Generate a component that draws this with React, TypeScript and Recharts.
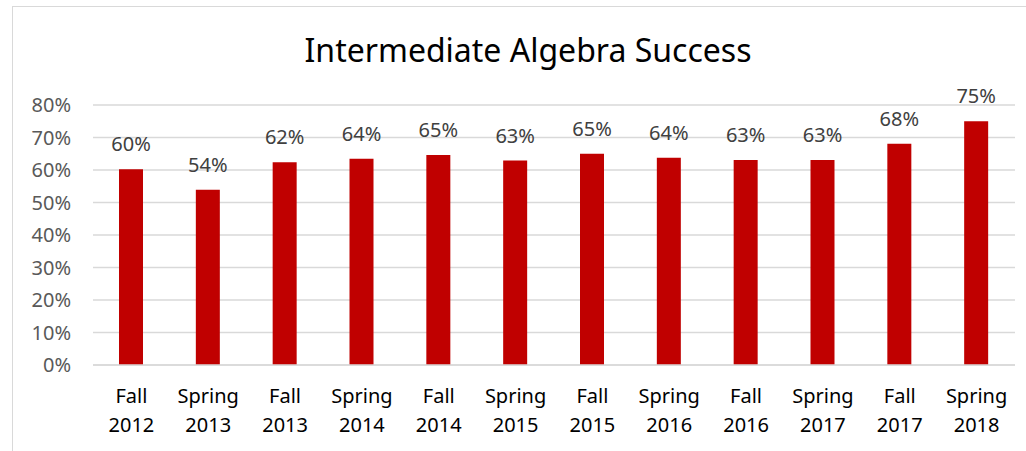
import React from 'react';
import { BarChart, Bar, XAxis, YAxis, CartesianGrid, LabelList } from 'recharts';

const terms = ['Fall', 'Spring', 'Fall', 'Spring', 'Fall', 'Spring', 'Fall', 'Spring', 'Fall', 'Spring', 'Fall', 'Spring'];
const years = ['2012', '2013', '2013', '2014', '2014', '2015', '2015', '2016', '2016', '2017', '2017', '2018'];
const successRates = [60.2, 53.9, 62.4, 63.5, 64.6, 62.9, 65.0, 63.8, 63.1, 63.1, 68.1, 75.0];
const yTicks = [0, 10, 20, 30, 40, 50, 60, 70, 80];

const data = terms.map((term, i) => ({
  term: `${term} ${years[i]}`,
  season: term,
  year: years[i],
  rate: successRates[i],
}));

const FONT = '"Noto Sans", sans-serif';

const TermTick = (props: any) => {
  const { x, y, index } = props;
  return (
    <text x={x} y={y} textAnchor="middle" fill="#000000" fontSize={20} fontFamily={FONT}>
      <tspan x={x} dy={38}>{terms[index]}</tspan>
      <tspan x={x} dy={29}>{years[index]}</tspan>
    </text>
  );
};

export default function App() {
  return (
    <div style={{ position: 'absolute', left: 0, top: 0, width: 1026, height: 451, background: '#fff', overflow: 'hidden' }}>
      <div
        style={{
          position: 'absolute',
          left: 12,
          top: 6,
          width: 1030,
          height: 460,
          border: '1px solid #d9d9d9',
          boxSizing: 'border-box',
        }}
      />
      <div
        style={{
          position: 'absolute',
          left: 0,
          top: 34,
          width: 1056,
          textAlign: 'center',
          fontFamily: FONT,
          fontSize: 32,
          lineHeight: '32px',
          color: '#000000',
        }}
      >
        Intermediate Algebra Success
      </div>
      <div style={{ position: 'absolute', left: 0, top: 0 }}>
        <BarChart width={1026} height={451} data={data} margin={{ top: 105, right: 11, bottom: 0, left: 0 }}>
          <CartesianGrid vertical={false} stroke="#d9d9d9" strokeWidth={1.5} />
          <XAxis
            dataKey="term"
            height={86}
            interval={0}
            tickLine={false}
            tickSize={0}
            tickMargin={0}
            axisLine={{ stroke: '#d9d9d9', strokeWidth: 1.5 }}
            tick={<TermTick />}
          />
          <YAxis
            width={93}
            domain={[0, 80]}
            ticks={yTicks}
            interval={0}
            axisLine={false}
            tickLine={false}
            tickSize={0}
            tickMargin={22}
            tickFormatter={(v: number) => `${v}%`}
            tick={{ fill: '#595959', fontSize: 20, fontFamily: FONT }}
          />
          <Bar dataKey="rate" fill="#C00000" barSize={24} isAnimationActive={false}>
            <LabelList
              dataKey="rate"
              position="top"
              offset={18}
              formatter={(v: any) => `${Math.round(Number(v))}%`}
              fill="#404040"
              fontSize={20}
              fontFamily={FONT}
            />
          </Bar>
        </BarChart>
      </div>
    </div>
  );
}
